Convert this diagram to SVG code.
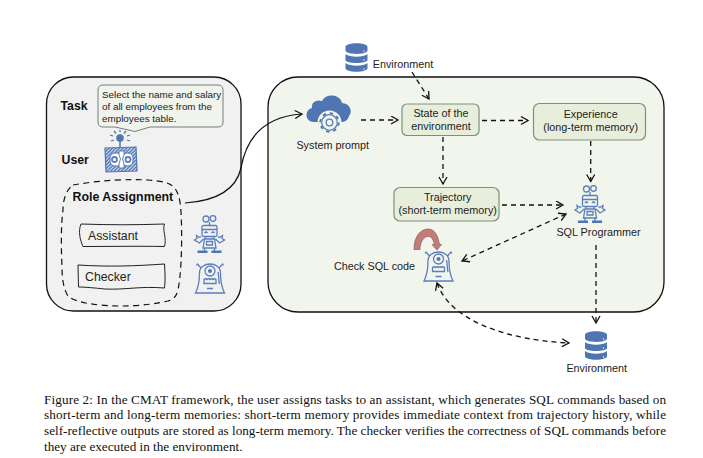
<svg xmlns="http://www.w3.org/2000/svg" width="703" height="458" viewBox="0 0 703 458">
<style>
text{font-family:"Liberation Sans",Arial,sans-serif;fill:#222}
.n{font-size:10.800px;text-anchor:middle}
.b{font-weight:bold;fill:#111}
.cap{font-family:"Liberation Serif","Times New Roman",serif;font-size:13.200px;fill:#111}
.box{fill:#e7efdc;stroke:#7f8f7f;stroke-width:1.200}
.d{fill:none;stroke:#111;stroke-width:1.300;stroke-dasharray:5 4;marker-end:url(#a)}
.i{fill:none;stroke:#5a7fbb;stroke-width:1.300}
.f{fill:#4f75b3}
</style>
<defs>
<marker id="a" markerWidth="10" markerHeight="10" refX="8" refY="4.500" orient="auto-start-reverse" markerUnits="userSpaceOnUse"><path d="M1 .5L8 4.500L1 8.500" fill="none" stroke="#111" stroke-width="1.300"/></marker>
<pattern id="h" width="2.500" height="2.500" patternUnits="userSpaceOnUse" patternTransform="rotate(45)"><rect width="2.500" height="2.500" fill="#4f75b3"/><rect width="1.100" height="2.500" fill="#dbe4f2"/></pattern>
<g id="db">
<path class="f" d="M0 4C0-1 22-1 22 4V7.500C22 12 0 12 0 7.500ZM0 11C4 14.500 18 14.500 22 11V17C22 21 0 21 0 17ZM0 20C4 23.500 18 23.500 22 20V25C22 30 0 30 0 25Z"/>
<circle cx="18.500" cy="8" r=".7" fill="#fff"/><circle cx="18.500" cy="17" r=".7" fill="#fff"/><circle cx="18.500" cy="26" r=".7" fill="#fff"/>
</g>
<g id="robot">
<circle class="i" cx="-3.500" cy="-13" r="3"/><circle class="i" cx="3.500" cy="-13.500" r="2.800"/>
<path class="i" d="M0-10V-6"/>
<rect class="i" x="-7.500" y="-6.500" width="15" height="11" rx="1.500"/>
<path class="i" d="M-7.500-2.500H7.500M-5 1q1.500-2 3 0M2 1q1.500-2 3 0M-4 4.500V7H4V4.500M-6 7L-10 11L-15 8L-12.500 6.500L-13 3.500L-10 5.500L-8.500 4.500M6 7L10 11L15 8L12.500 6.500L13 3.500L10 5.500L8.500 4.500M-6.500 16L-5 7H5L6.500 16ZM-3 9.500H3V13H-3ZM-5 16V19M5 16V19"/>
<path class="f" d="M-12 18.500H-2V21H-12ZM2 18.500H12V21H2Z"/>
</g>
<g id="mon">
<path class="i" d="M-14.500 15C-11 8-10.500 0-10.500-5C-10.500-17 10.500-17 10.500-5C10.500 0 11 8 14.500 15ZM-9-10L-12.500-14L-13.500-12.500M9-10L12.500-14L13.500-12.500M-3 10.500H3M8-6C9-2 8.500 2 9.500 6"/>
<circle class="i" cx="0" cy="-7" r="5"/><circle class="f" cx="0" cy="-7" r="2"/>
<path class="i" d="M-6 1.500Q-4.500 0-3 1.500Q-1.500 0 0 1.500Q1.500 0 3 1.500Q4.500 0 6 1.500V5.500H-6Z"/>
</g>
</defs>

<g id="user-panel">
<rect x="46.500" y="77" width="194.500" height="234" rx="27" fill="#f1f1f1" stroke="#111" stroke-width="1.300"/>
<text class="b" x="60.500" y="110" font-size="12.300">Task</text>
<text class="b" x="61.500" y="163.500" font-size="12.300">User</text>
</g>
<g id="main-panel">
<rect x="268" y="77" width="396" height="235" rx="30" fill="#f2f5ec" stroke="#111" stroke-width="1.300"/>
</g>

<g id="task-bubble">
<path d="M103 85H218Q223 85 223 90V122Q223 127 218 127H150L135 131.500L115 127H103Q98 127 98 122V90Q98 85 103 85Z" fill="#f0f4ec" stroke="#6f7f7f"/>
<text x="102" y="98" font-size="9.850">Select the name and salary</text>
<text x="102" y="110" font-size="9.850">of all employees from the</text>
<text x="102" y="122" font-size="9.850">employees table.</text>
</g>
<g id="user-icon">
<path d="M105 148L136 147L137 171L106 172Z" fill="url(#h)" stroke="#4f75b3" stroke-width="1.200"/>
<path d="M120 141V147" stroke="#4f75b3" stroke-width="1.500"/>
<circle class="f" cx="120" cy="138" r="3.800"/>
<path d="M110 135L113 136M111 141L114 140M130 135L127 136M130 141L127 140M114 131L116 133.500M126 131L124 133.500M120 130V132" stroke="#4f75b3" stroke-width="1.300"/>
<rect x="110" y="153" width="12" height="13" rx="5" fill="#fff" stroke="#4f75b3"/>
<rect x="122" y="153" width="11" height="13" rx="5" fill="#fff" stroke="#4f75b3"/>
<circle class="i" cx="114.500" cy="159.500" r="2.500" style="stroke-width:1.800"/><circle class="i" cx="128" cy="159.500" r="2.500" style="stroke-width:1.800"/>
<path d="M119 151H124V155L122.500 159L124 164V168H119V164L120.500 159L119 155Z" fill="#fff" stroke="#4f75b3" stroke-width=".9"/>
</g>
<g id="role-assignment">
<path d="M73 185C100 180 130 179 148 180C165 181 173 184 176 190C180 197 181 205 181.500 225C182 250 181 275 178 290C176 298 172 300 168 301C150 305 135 306 120 306C100 306 75 303 68 296C64 290 62 280 62 267C61 245 61 225 63 210C63 200 66 190 73 185Z" fill="none" stroke="#111" stroke-width="1.200" stroke-dasharray="6 4.500"/>
<text class="b" x="72.500" y="201" font-size="12.400">Role Assignment</text>
</g>
<g id="assistant">
<path d="M81 224C110 225 135 225 164.500 224C162 230 167 238 164.500 246.500C135 246 110 246.500 83 246.500C80 240 78 231 81 224Z" fill="#f2f2f2" stroke="#222"/>
<text x="88" y="239.500" font-size="12.300">Assistant</text>
</g>
<g id="checker">
<path d="M78 265C110 267 135 266 164.500 264C165 272 165.500 280 164.500 288C140 286 125 290 105 289C95 288 85 287 78.500 287Z" fill="#f2f2f2" stroke="#222"/>
<text x="85" y="281" font-size="12.300">Checker</text>
</g>
<g id="assistant-icon"><use href="#robot" x="209.500" y="232"/></g>
<g id="checker-icon"><use href="#mon" x="210" y="278"/></g>

<g id="env-top"><use href="#db" x="345.500" y="43"/><text class="n" x="403" y="68.300">Environment</text></g>
<g id="system-prompt">
<path class="f" d="M314 122C305 122 304 110 312 108C311 102 317 99 322 101C326 93 340 94 342 103C350 103 353 112 349 116C348 120 345 122 341 122Z"/>
<circle cx="329.500" cy="122.500" r="12" fill="#f2f5ec"/>
<circle cx="329.500" cy="122.500" r="9.300" fill="none" stroke="#4f75b3" stroke-width="1.800" stroke-dasharray="3.300 4"/>
<circle cx="329.500" cy="122.500" r="7.800" class="i"/>
<circle cx="329.500" cy="122.500" r="3.300" class="i"/>
<text class="n" x="332.700" y="148.500">System prompt</text>
</g>
<g id="state">
<rect x="402" y="104" width="77" height="31.500" rx="5" class="box"/>
<text class="n" x="441" y="117.300">State of the</text><text class="n" x="441" y="130">environment</text>
</g>
<g id="experience">
<rect x="533.500" y="103.500" width="112" height="36.500" rx="6" class="box"/>
<text class="n" x="590.700" y="117.700">Experience</text><text class="n" x="590.700" y="130.700">(long-term memory)</text>
</g>
<g id="trajectory">
<rect x="394" y="187.500" width="105" height="33.500" rx="6" class="box"/>
<text class="n" x="447.700" y="200.700">Trajectory</text><text class="n" x="447.700" y="213.700">(short-term memory)</text>
</g>
<g id="sql-programmer"><use href="#robot" x="590" y="202"/><text class="n" x="598.500" y="235.700">SQL Programmer</text></g>
<g id="check-sql">
<path d="M414 249.500C414 236 421 229 428 229C435 229 438 236 439.500 244.500L441.500 244.500L437 250L432 244.500L434.500 244.500C433 238 430.500 236 427.500 236.500C423 237 420 243 420 249.500Z" fill="#c57b78" stroke="#6a5050" stroke-width=".6"/>
<use href="#mon" x="438.500" y="266"/>
<text class="n" x="374.500" y="270">Check SQL code</text>
</g>
<g id="env-bottom"><use href="#db" x="585" y="331"/><text class="n" x="596.700" y="371.700">Environment</text></g>

<g id="connectors">
<path d="M185 203C215 201 236 190 241 168C245 145 258 117 302 114" fill="none" stroke="#111" stroke-width="1.200" marker-end="url(#a)"/>
<path class="d" d="M361 120H398"/>
<path class="d" d="M412 72L429 99"/>
<path class="d" d="M482 120.500H528"/>
<path class="d" d="M443 137V184"/>
<path class="d" d="M590.700 141V181.500"/>
<path class="d" d="M502 205H563"/>
<path class="d" d="M596 245V323"/>
<path class="d" d="M566 214L462 261" marker-start="url(#a)"/>
<path class="d" d="M437 283C450 320 505 340 569 343" marker-start="url(#a)"/>
</g>

<g id="caption">
<text class="cap" x="44" y="403.500" textLength="622">Figure 2: In the CMAT framework, the user assigns tasks to an assistant, which generates SQL commands based on</text>
<text class="cap" x="44" y="419" textLength="622">short-term and long-term memories: short-term memory provides immediate context from trajectory history, while</text>
<text class="cap" x="44" y="435" textLength="622">self-reflective outputs are stored as long-term memory. The checker verifies the correctness of SQL commands before</text>
<text class="cap" x="44" y="450.500">they are executed in the environment.</text>
</g>
</svg>
